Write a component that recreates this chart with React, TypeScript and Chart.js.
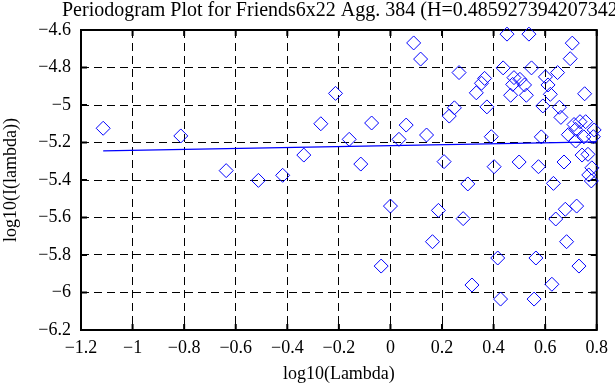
import React, { useEffect, useRef } from "react";
import { Chart, registerables } from "chart.js";

Chart.register(...registerables);

const titleText = "Periodogram Plot for Friends6x22 Agg. 384 (H=0.485927394207342)";
const xLabel = "log10(Lambda)";
const yLabel = "log10(I(lambda))";

const xTicks = [-1.2, -1, -0.8, -0.6, -0.4, -0.2, 0, 0.2, 0.4, 0.6, 0.8];
const yTicks = [-6.2, -6, -5.8, -5.6, -5.4, -5.2, -5, -4.8, -4.6];

const logLambda = [
  -1.114, -0.813, -0.637, -0.512, -0.418, -0.336, -0.27, -0.213, -0.16, -0.115,
  -0.073, -0.036, 0.0, 0.033, 0.061, 0.09, 0.117, 0.14, 0.163, 0.186,
  0.208, 0.228, 0.248, 0.266, 0.282, 0.3, 0.316, 0.333, 0.353, 0.365,
  0.374, 0.391, 0.402, 0.416, 0.427, 0.437, 0.452, 0.466, 0.474, 0.479,
  0.499, 0.502, 0.52, 0.527, 0.537, 0.547, 0.557, 0.564, 0.574, 0.585,
  0.591, 0.601, 0.611, 0.62, 0.626, 0.632, 0.641, 0.648, 0.655, 0.661,
  0.673, 0.678, 0.683, 0.69, 0.697, 0.705, 0.712, 0.718, 0.722, 0.731,
  0.735, 0.743, 0.753, 0.757, 0.766, 0.769, 0.779, 0.781, 0.787, 0.79,
  0.718, 0.75,
];
const logPower = [
  -5.124, -5.165, -5.35, -5.402, -5.375, -5.267, -5.1, -4.938, -5.183, -5.315,
  -5.096, -5.859, -5.539, -5.183, -5.107, -4.669, -4.755, -5.16, -5.729, -5.562,
  -5.302, -5.059, -5.015, -4.827, -5.606, -5.421, -5.96, -4.935, -4.884, -4.858,
  -5.01, -5.169, -5.329, -5.816, -6.035, -4.802, -4.622, -4.948, -4.89, -4.854,
  -5.304, -4.863, -4.893, -4.948, -4.622, -4.802, -6.035, -5.816, -5.329, -5.17,
  -5.005, -4.85, -4.893, -4.943, -5.956, -5.418, -5.608, -4.827, -5.012, -5.066,
  -5.304, -5.556, -5.729, -5.158, -4.753, -4.67, -5.104, -5.192, -5.539, -5.859,
  -5.089, -5.267, -4.94, -5.089, -5.263, -5.373, -5.405, -5.335, -5.169, -5.133,
  -5.13, -5.17,
];

const fitX = [-1.114, 0.8];
const fitY = [-5.245, -5.197];

const FONT = "'Liberation Serif', 'Times New Roman', serif";

const fmt = (v: number) => {
  const r = Math.round(v * 10) / 10;
  if (r === 0) return "0";
  return String(r).replace("-", "\u2212");
};

const framePlugin = {
  id: "frame",
  beforeDatasetsDraw(chart: any) {
    const { ctx, chartArea } = chart;
    const { left, right, top, bottom } = chartArea;
    const xs = chart.scales.x;
    const ys = chart.scales.y;
    ctx.save();
    ctx.strokeStyle = "#000";
    ctx.lineWidth = 2;
    ctx.setLineDash([]);
    ctx.strokeRect(left, top, right - left, bottom - top);
    const tl = 6;
    ctx.beginPath();
    xTicks.forEach((v) => {
      const px = xs.getPixelForValue(v);
      ctx.moveTo(px, bottom);
      ctx.lineTo(px, bottom - tl);
      ctx.moveTo(px, top);
      ctx.lineTo(px, top + tl);
    });
    yTicks.forEach((v) => {
      const py = ys.getPixelForValue(v);
      ctx.moveTo(left, py);
      ctx.lineTo(left + tl, py);
      ctx.moveTo(right, py);
      ctx.lineTo(right - tl, py);
    });
    ctx.stroke();
    ctx.restore();
  },
  afterDraw(chart: any) {
    const { ctx } = chart;
    ctx.save();
    ctx.fillStyle = "#000";
    ctx.font = `20px ${FONT}`;
    ctx.textAlign = "left";
    ctx.textBaseline = "alphabetic";
    ctx.fillText(titleText, 62, 16);
    ctx.restore();
  },
};

export default function App() {
  const ref = useRef<HTMLCanvasElement | null>(null);

  useEffect(() => {
    if (!ref.current) return;
    const points = logLambda.map((x, i) => ({ x, y: logPower[i] }));
    const fit = fitX.map((x, i) => ({ x, y: fitY[i] }));
    const chart = new Chart(ref.current, {
      type: "scatter",
      data: {
        datasets: [
          {
            type: "scatter",
            data: points,
            pointStyle: "rectRot",
            pointRadius: 7,
            pointHoverRadius: 7,
            borderColor: "#0000ff",
            backgroundColor: "rgba(0,0,0,0)",
            borderWidth: 1,
            clip: false as any,
          },
          {
            type: "line",
            data: fit,
            borderColor: "#0000ff",
            borderWidth: 1.2,
            pointRadius: 0,
            fill: false,
          } as any,
        ],
      },
      options: {
        responsive: false,
        animation: false,
        devicePixelRatio: 1,
        layout: { padding: { top: 30, right: 7, left: 0, bottom: 0 } },
        plugins: {
          legend: { display: false },
          tooltip: { enabled: false },
          title: { display: false },
        },
        scales: {
          x: {
            type: "linear",
            min: -1.2,
            max: 0.8,
            afterBuildTicks: (s: any) => {
              s.ticks = xTicks.map((value) => ({ value }));
            },
            afterFit: (s: any) => {
              s.height = 55;
            },
            grid: { color: "#000", lineWidth: 1, drawTicks: false },
            border: { display: false, dash: [8, 5] },
            ticks: {
              color: "#000",
              font: { family: FONT, size: 18 },
              padding: 7,
              maxRotation: 0,
              autoSkip: false,
              callback: (v: any) => fmt(Number(v)),
            },
            title: {
              display: true,
              text: xLabel,
              color: "#000",
              font: { family: FONT, size: 18 },
              padding: { top: 0, bottom: 0 },
            },
          },
          y: {
            type: "linear",
            min: -6.2,
            max: -4.6,
            afterBuildTicks: (s: any) => {
              s.ticks = yTicks.map((value) => ({ value }));
            },
            afterFit: (s: any) => {
              s.width = 81;
            },
            grid: { color: "#000", lineWidth: 1, drawTicks: false },
            border: { display: false, dash: [8, 5] },
            ticks: {
              color: "#000",
              font: { family: FONT, size: 18 },
              padding: 10,
              autoSkip: false,
              callback: (v: any) => fmt(Number(v)),
            },
            title: {
              display: true,
              text: yLabel,
              color: "#000",
              font: { family: FONT, size: 18 },
              padding: { top: 0, bottom: 0 },
            },
          },
        },
      },
      plugins: [framePlugin],
    });
    return () => chart.destroy();
  }, []);

  return (
    <div style={{ position: "absolute", left: 0, top: 0, width: 615, height: 385, background: "#fff" }}>
      <canvas ref={ref} width={615} height={385} style={{ display: "block" }} />
    </div>
  );
}
